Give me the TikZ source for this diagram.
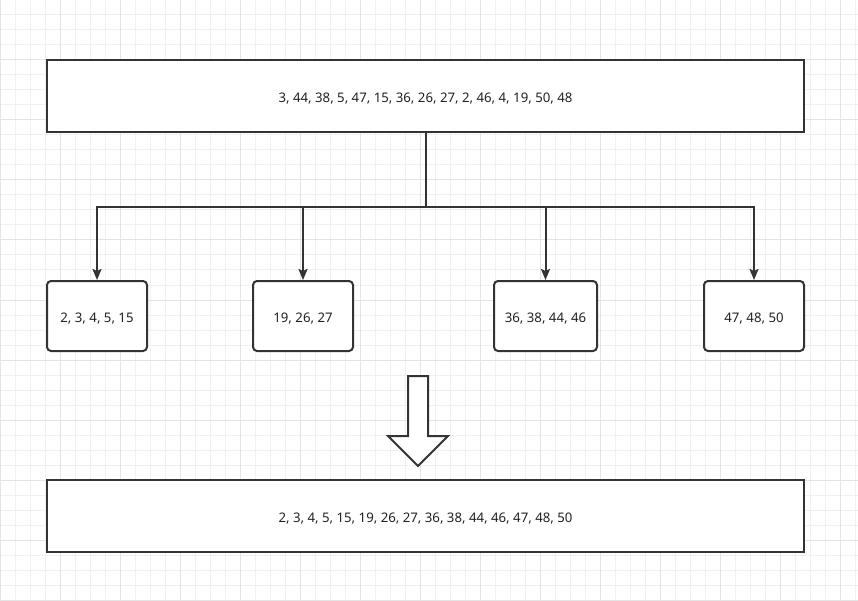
\documentclass[tikz,border=0pt]{standalone}
\usepackage{fontspec}
\setmainfont{Noto Sans}
\usetikzlibrary{arrows.meta}
\definecolor{ln}{HTML}{333333}
\definecolor{tx}{HTML}{222222}
\definecolor{gminor}{HTML}{F0F0F0}
\definecolor{gmajor}{HTML}{E4E4E4}
\begin{document}
\begin{tikzpicture}[x=1pt,y=-1pt,
  box/.style={draw=ln,line width=2pt,fill=white,text=tx,font=\fontsize{13.2}{15}\selectfont,text height=13.4pt,text depth=0pt},
  rbox/.style={box,rounded corners=4pt},
  conn/.style={draw=ln,line width=2pt},
  arr/.style={conn,-{Stealth[length=11pt,width=9pt,inset=2pt]}}]
\useasboundingbox (0,0) rectangle (858,601);
\fill[white] (0,0) rectangle (858,601);
\foreach \i in {0,15,...,855} \draw[gminor,line width=1pt] (\i,0) -- (\i,601);
\foreach \j in {0,15,...,600} \draw[gminor,line width=1pt] (0,\j) -- (858,\j);
\foreach \i in {0,60,...,855} \draw[gmajor,line width=1pt] (\i,0) -- (\i,601);
\foreach \j in {0,60,...,600} \draw[gmajor,line width=1pt] (0,\j) -- (858,\j);

\node[box,minimum width=757pt,minimum height=72pt,inner sep=0pt] (top) at (425.5,96) {3, 44, 38, 5, 47, 15, 36, 26, 27, 2, 46, 4, 19, 50, 48};
\node[rbox,minimum width=100pt,minimum height=70pt,inner sep=0pt] (b1) at (97,316) {2, 3, 4, 5, 15};
\node[rbox,minimum width=100pt,minimum height=70pt,inner sep=0pt] (b2) at (303,316) {19, 26, 27};
\node[rbox,minimum width=103pt,minimum height=70pt,inner sep=0pt] (b3) at (545.5,316) {36, 38, 44, 46};
\node[rbox,minimum width=100pt,minimum height=70pt,inner sep=0pt] (b4) at (754,316) {47, 48, 50};
\node[box,minimum width=757pt,minimum height=72pt,inner sep=0pt] (bot) at (425.5,516) {2, 3, 4, 5, 15, 19, 26, 27, 36, 38, 44, 46, 47, 48, 50};

\coordinate (j) at (426,207);
\draw[conn] (426,132) -- (j);
\draw[arr] (j) -| (b1.north);
\draw[arr] (j) -| (b2.north);
\draw[arr] (j) -| (b3.north);
\draw[arr] (j) -| (b4.north);

\draw[ln,line width=2pt,fill=white,line join=miter] (408,376) -- (428,376) -- (428,436) -- (448,436) -- (418,466) -- (388,436) -- (408,436) -- cycle;
\end{tikzpicture}
\end{document}
